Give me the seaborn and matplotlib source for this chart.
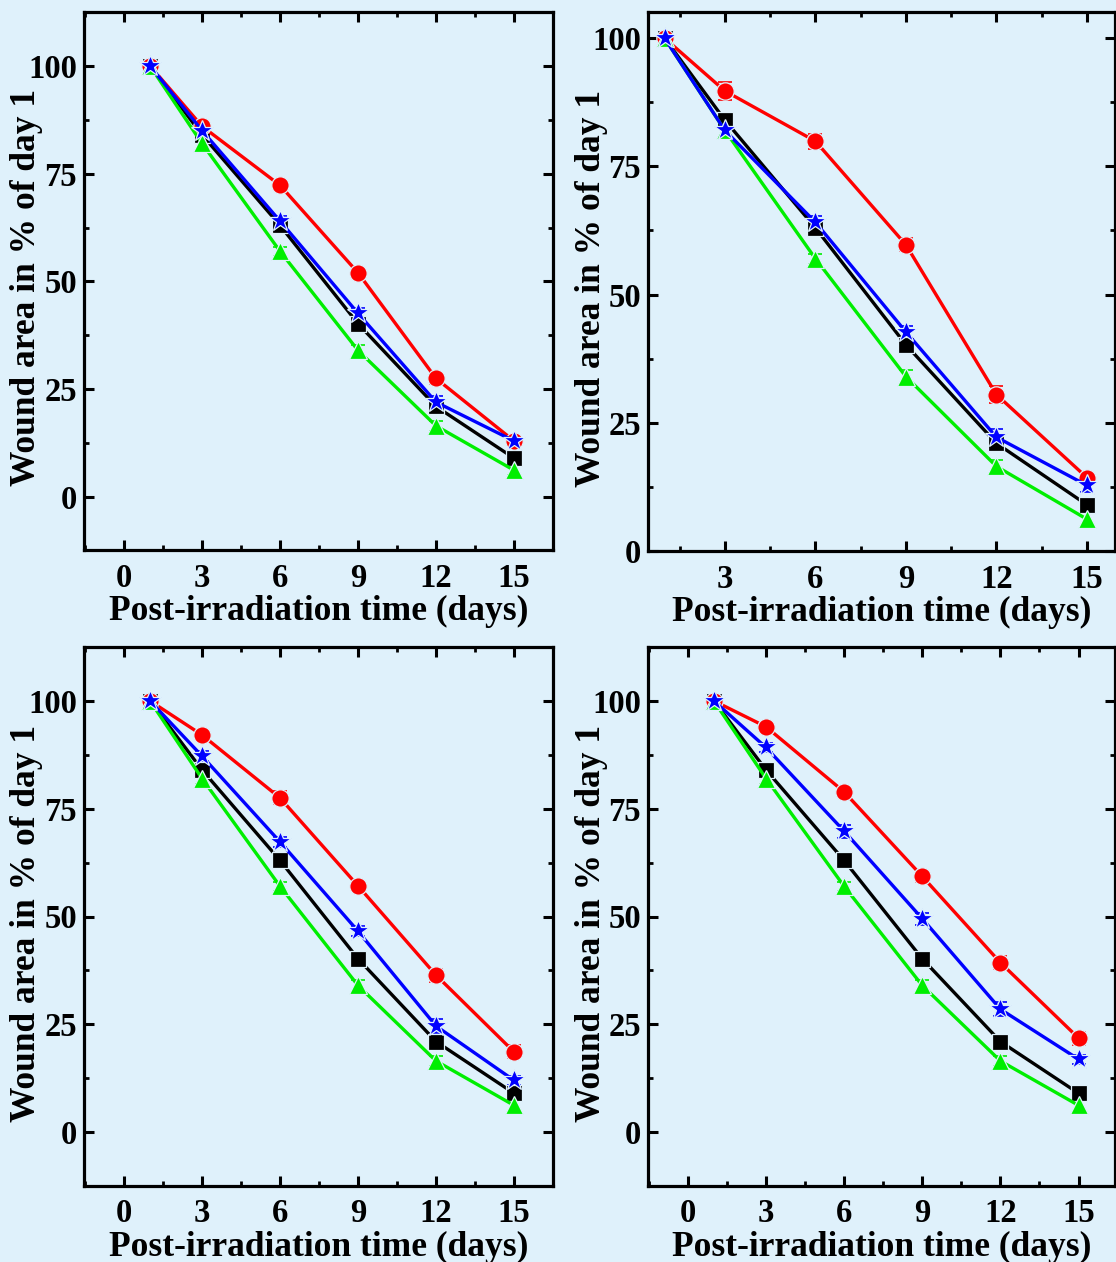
import numpy as np
import pandas as pd
import matplotlib
matplotlib.use("Agg")
import matplotlib.pyplot as plt
from matplotlib.ticker import MultipleLocator
import seaborn as sns

# Sampling days
days = [1, 3, 6, 9, 12, 15]

# Shared reference groups (same in every panel)
black_vals = [100, 84.0, 63.0, 40.2, 21.0, 9.0]
black_err = [0.0, 0.8, 1.0, 1.0, 0.9, 0.7]
green_vals = [100, 82.0, 57.0, 34.0, 16.5, 6.2]
green_err = [0.0, 1.2, 1.0, 1.2, 1.2, 1.2]

# Panel-specific groups
red_a = [100, 86.0, 72.3, 52.0, 27.5, 13.0]
red_a_err = [0.0, 1.0, 1.0, 1.0, 1.2, 0.8]
blue_a = [100, 85.0, 64.0, 42.6, 22.0, 13.0]
blue_a_err = [0.0, 1.2, 1.2, 1.2, 1.5, 1.2]

red_b = [100, 89.7, 79.9, 59.7, 30.5, 14.3]
red_b_err = [0.0, 1.8, 1.5, 1.3, 1.6, 1.0]
blue_b = [100, 82.0, 64.1, 42.7, 22.2, 12.8]
blue_b_err = [0.0, 1.2, 1.3, 1.2, 1.6, 1.2]

red_c = [100, 92.1, 77.5, 57.1, 36.4, 18.6]
red_c_err = [0.0, 0.8, 1.5, 1.0, 1.5, 1.5]
blue_c = [100, 87.2, 67.3, 46.6, 24.6, 12.0]
blue_c_err = [0.0, 1.2, 1.2, 1.2, 1.6, 1.0]

red_d = [100, 94.0, 78.9, 59.3, 39.3, 21.8]
red_d_err = [0.0, 0.8, 1.2, 1.3, 1.5, 1.5]
blue_d = [100, 89.2, 69.8, 49.5, 28.5, 16.9]
blue_d_err = [0.0, 1.0, 1.5, 1.4, 1.6, 1.0]

xlabel = "Post-irradiation time (days)"
ylabel = "Wound area in % of day 1"

BG = "#dff1fb"
groups = ["black", "red", "green", "blue"]
palette = {"black": "#000000", "red": "#ff0000", "green": "#00ee00", "blue": "#0000ff"}
markers = {"black": "s", "red": "o", "green": "^", "blue": "*"}
msize = {"black": 11.5, "red": 12.5, "green": 13, "blue": 16.5}

sns.set_theme(style="ticks")
plt.rcParams["font.family"] = ["Liberation Serif", "DejaVu Serif"]
plt.rcParams["font.weight"] = "bold"
plt.rcParams["axes.labelweight"] = "bold"
for key in ("text.color", "axes.labelcolor", "xtick.color", "ytick.color",
            "xtick.labelcolor", "ytick.labelcolor"):
    plt.rcParams[key] = "black"

W, H = 1116, 1262
fig = plt.figure(figsize=(W / 100, H / 100), dpi=100, facecolor=BG)


def px_axes(left, right, top, bottom):
    return fig.add_axes([left / W, 1 - bottom / H, (right - left) / W, (bottom - top) / H])


panels = [
    dict(box=(84, 553, 12, 550), xlim=(-1.54, 16.5), ylim=(-12.3, 112.5),
         red=(red_a, red_a_err), blue=(blue_a, blue_a_err), xt=[0, 3, 6, 9, 12, 15]),
    dict(box=(648, 1115, 12, 551), xlim=(0.45, 15.93), ylim=(0, 105.1),
         red=(red_b, red_b_err), blue=(blue_b, blue_b_err), xt=[3, 6, 9, 12, 15]),
    dict(box=(84, 553, 647, 1186), xlim=(-1.54, 16.5), ylim=(-12.5, 112.5),
         red=(red_c, red_c_err), blue=(blue_c, blue_c_err), xt=[0, 3, 6, 9, 12, 15]),
    dict(box=(648, 1115, 647, 1186), xlim=(-1.53, 16.4), ylim=(-12.5, 112.5),
         red=(red_d, red_d_err), blue=(blue_d, blue_d_err), xt=[0, 3, 6, 9, 12, 15]),
]

for p in panels:
    ax = px_axes(*p["box"])
    ax.set_facecolor(BG)
    series = {
        "black": (black_vals, black_err),
        "red": p["red"],
        "green": (green_vals, green_err),
        "blue": p["blue"],
    }
    # error bars beneath the markers
    for g in groups:
        vals, err = series[g]
        ax.errorbar(days, vals, yerr=err, fmt="none", ecolor=palette[g],
                    elinewidth=1.2, capsize=5, capthick=1.2, zorder=2)
    for g in groups:
        vals, err = series[g]
        df = pd.DataFrame({"day": days, "area": vals})
        sns.lineplot(data=df, x="day", y="area", ax=ax, color=palette[g],
                     marker=markers[g], markersize=msize[g], linewidth=2.4,
                     markeredgecolor=BG, markeredgewidth=0.9, zorder=3)

    ax.set_xlim(*p["xlim"])
    ax.set_ylim(*p["ylim"])
    ax.set_xticks(p["xt"])
    ax.set_yticks([0, 25, 50, 75, 100])
    ax.xaxis.set_minor_locator(MultipleLocator(1.5))
    ax.yaxis.set_minor_locator(MultipleLocator(12.5))
    ax.tick_params(which="both", direction="in", top=True, right=True,
                   labelsize=23.5, width=2.2, colors="black")
    ax.tick_params(axis="x", which="major", pad=9)
    ax.tick_params(axis="y", which="major", pad=5)
    ax.tick_params(which="major", length=7)
    ax.tick_params(which="minor", length=3.8, width=2.0)
    for lab in ax.get_xticklabels() + ax.get_yticklabels():
        lab.set_fontweight("bold")
    for s in ax.spines.values():
        s.set_linewidth(2.3)
        s.set_color("black")
    ax.set_xlabel(xlabel, fontsize=25.5, fontweight="bold", labelpad=1, color="black")
    ax.set_ylabel(ylabel, fontsize=25.5, fontweight="bold", color="black")
    ax.yaxis.label.set_verticalalignment("center")
    left, right, top, bottom = p["box"]
    # y label centred 57 px to the left of the left spine
    ax.yaxis.set_label_coords(-57 / (right - left), 0.488)
    ax.grid(False)

fig.savefig("out.png", dpi=100, facecolor=BG)
